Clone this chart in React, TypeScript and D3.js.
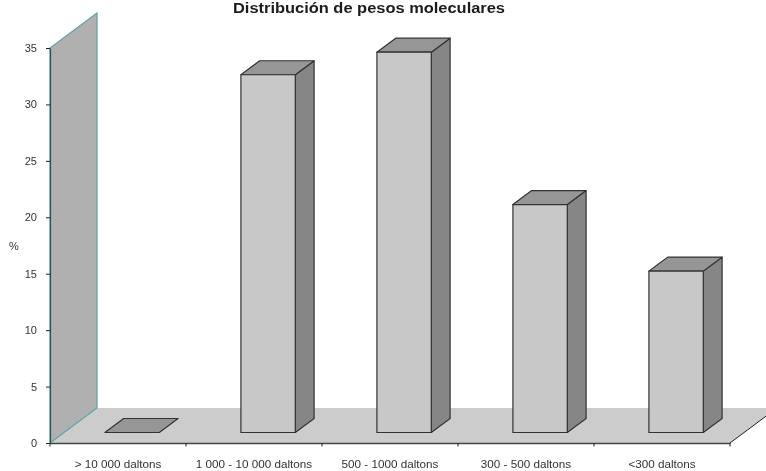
/* eslint-disable @typescript-eslint/no-explicit-any */
import { useEffect, useRef } from 'react';
import * as d3 from 'd3';

const categories = ['> 10 000 daltons', '1 000 - 10 000 daltons', '500 - 1000 daltons', '300 - 500 daltons', '<300 daltons'];
const values = [0, 31.7, 33.7, 20.2, 14.3];
const yTicks = [0, 5, 10, 15, 20, 25, 30, 35];

const FONT = '"Liberation Sans", Arial, sans-serif';
const depthX = 47;
const depthY = 35;

export default function App() {
  const ref = useRef<SVGSVGElement>(null);

  useEffect(() => {
    if (!ref.current) return;
    const svg = d3.select(ref.current);
    svg.selectAll('*').remove();

    // the source picture is a soft, upscaled bitmap
    svg.append('defs').append('filter')
      .attr('id', 'soft')
      .attr('filterUnits', 'userSpaceOnUse')
      .attr('x', 0).attr('y', 0).attr('width', 766).attr('height', 471)
      .append('feGaussianBlur')
      .attr('stdDeviation', 0.5);

    const x = d3.scaleBand<string>().domain(categories).range([50, 730]).paddingInner(0).paddingOuter(0);
    const y = d3.scaleLinear().domain([0, 35]).range([443, 48]);
    const line = d3.line<[number, number]>();
    // oblique projection: z 0 = front of the floor, 1 = back wall
    const px = (v: number, z: number) => v + z * depthX;
    const py = (v: number, z: number) => v - z * depthY;
    const poly = (pts: [number, number][]) => line(pts)! + 'Z';

    const g = svg.append('g').attr('filter', 'url(#soft)');

    // floor
    g.append('path')
      .attr('d', poly([[50, 443], [730, 443], [px(730, 1), py(443, 1)], [px(50, 1), py(443, 1)]]))
      .attr('fill', '#cccccc');

    // back wall
    g.append('path')
      .attr('d', poly([[50, y(0)], [px(50, 1), py(y(0), 1)], [px(50, 1), py(y(35), 1)], [50, y(35)]]))
      .attr('fill', '#b0b0b0')
      .attr('stroke', '#5fa5a5')
      .attr('stroke-width', 1.3);

    // bars
    const zFront = 0.3;
    const zBack = 0.7;
    const barW = x.bandwidth() / 2.5;
    const bars = g.selectAll('g.bar')
      .data(categories.map((c, i) => ({ c, v: values[i] })))
      .join('g')
      .attr('class', 'bar')
      .attr('stroke', '#333333')
      .attr('stroke-width', 1.2)
      .attr('stroke-linejoin', 'round');

    const left = (d: { c: string }) => x(d.c)! + (x.bandwidth() - barW) / 2;

    // right side
    bars.filter(d => d.v > 0).append('path')
      .attr('fill', '#868686')
      .attr('d', d => {
        const r = left(d) + barW;
        return poly([
          [px(r, zFront), py(y(0), zFront)],
          [px(r, zBack), py(y(0), zBack)],
          [px(r, zBack), py(y(d.v), zBack)],
          [px(r, zFront), py(y(d.v), zFront)],
        ]);
      });
    // top
    bars.append('path')
      .attr('fill', '#969696')
      .attr('d', d => {
        const l = left(d);
        const r = l + barW;
        return poly([
          [px(l, zFront), py(y(d.v), zFront)],
          [px(r, zFront), py(y(d.v), zFront)],
          [px(r, zBack), py(y(d.v), zBack)],
          [px(l, zBack), py(y(d.v), zBack)],
        ]);
      });
    // front
    bars.filter(d => d.v > 0).append('path')
      .attr('fill', '#c8c8c8')
      .attr('d', d => {
        const l = left(d);
        const r = l + barW;
        return poly([
          [px(l, zFront), py(y(0), zFront)],
          [px(r, zFront), py(y(0), zFront)],
          [px(r, zFront), py(y(d.v), zFront)],
          [px(l, zFront), py(y(d.v), zFront)],
        ]);
      });

    // axes
    const yAxis = d3.axisLeft(y).tickValues(yTicks).tickSize(4).tickPadding(9).tickSizeOuter(0);
    const yG = g.append('g').attr('transform', 'translate(50,0)').call(yAxis as any);
    yG.select('.domain').attr('stroke', '#2f4f4f').attr('stroke-width', 1.2);
    yG.selectAll('line').attr('stroke', '#222222');
    yG.selectAll('text').attr('fill', '#333333').attr('font-size', 11).attr('font-family', FONT);

    const xAxis = d3.axisBottom(x).tickSize(0).tickPadding(17);
    const xG = g.append('g').attr('transform', 'translate(0,443)').call(xAxis as any);
    xG.select('.domain').attr('stroke', '#444444').attr('stroke-width', 1.5);
    xG.selectAll('text').attr('fill', '#333333').attr('font-size', 11.7).attr('font-family', FONT);

    const edges = [...categories.map(c => x(c)!), 730];
    g.selectAll('line.cat')
      .data(edges)
      .join('line')
      .attr('class', 'cat')
      .attr('x1', d => d).attr('x2', d => d)
      .attr('y1', 443).attr('y2', 446.5)
      .attr('stroke', '#222222');

    // right edge of floor
    g.append('line')
      .attr('x1', 730).attr('y1', 443)
      .attr('x2', px(730, 1)).attr('y2', py(443, 1))
      .attr('stroke', '#222222');

    g.append('text')
      .attr('x', 369).attr('y', 12.5)
      .attr('text-anchor', 'middle')
      .attr('font-family', FONT)
      .attr('font-size', 14)
      .attr('font-weight', 'bold')
      .attr('fill', '#1a1a1a')
      .attr('textLength', 272)
      .attr('lengthAdjust', 'spacingAndGlyphs')
      .text('Distribución de pesos moleculares');

    g.append('text')
      .attr('x', 14).attr('y', 250)
      .attr('text-anchor', 'middle')
      .attr('font-family', FONT)
      .attr('font-size', 11)
      .attr('fill', '#333333')
      .text('%');
  }, []);

  return (
    <svg ref={ref} width={766} height={471} style={{ position: 'absolute', left: 0, top: 0, background: '#fff' }}>
    </svg>
  );
}
